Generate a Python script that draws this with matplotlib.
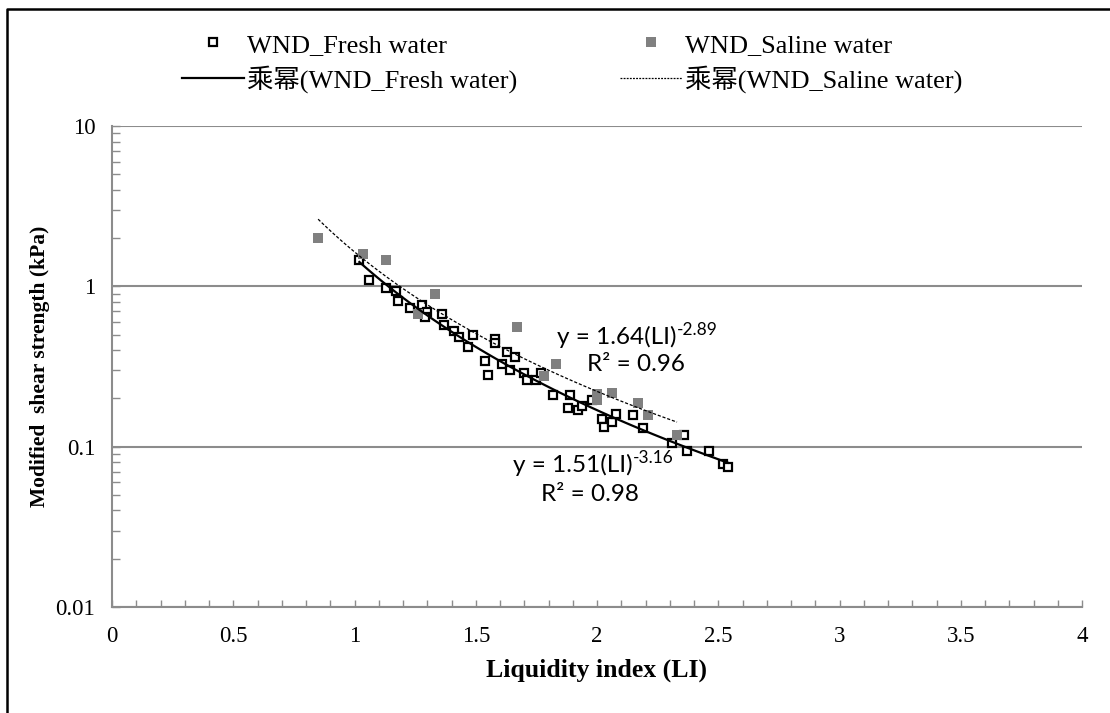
import numpy as np
import matplotlib
matplotlib.use('Agg')
import matplotlib.pyplot as plt
from matplotlib.ticker import MultipleLocator, LogLocator, FuncFormatter, NullFormatter
from matplotlib.lines import Line2D

# -- data
fresh_li = [1.02, 1.06, 1.13, 1.17, 1.18, 1.23, 1.28, 1.30, 1.29, 1.36, 1.37, 1.41,
            1.43, 1.49, 1.47, 1.58, 1.58, 1.63, 1.66, 1.54, 1.55, 1.61, 1.64, 1.70,
            1.71, 1.75, 1.77, 1.82, 1.89, 1.88, 1.92, 1.94, 1.98, 2.02, 2.03, 2.06,
            2.08, 2.15, 2.19, 2.31, 2.36, 2.37, 2.46, 2.52, 2.54]
fresh_su = [1.47, 1.09, 0.97, 0.94, 0.81, 0.73, 0.76, 0.69, 0.64, 0.67, 0.57, 0.53,
            0.48, 0.50, 0.42, 0.47, 0.44, 0.39, 0.36, 0.34, 0.28, 0.33, 0.30, 0.29,
            0.26, 0.26, 0.29, 0.21, 0.21, 0.174, 0.169, 0.179, 0.195, 0.148, 0.132, 0.142,
            0.159, 0.157, 0.130, 0.105, 0.118, 0.094, 0.094, 0.078, 0.075]
saline_li = [0.85, 1.035, 1.13, 1.33, 1.26, 1.67, 1.83, 1.78, 2.00, 2.00, 2.06,
             2.17, 2.21, 2.33]
saline_su = [1.99, 1.58, 1.45, 0.90, 0.67, 0.555, 0.33, 0.275, 0.212, 0.195, 0.216,
             0.187, 0.157, 0.118]

# power trendlines (coefficients as printed on the chart)
fresh_a, fresh_b = 1.51, -3.16
saline_a, saline_b = 1.64, -2.89

serif = ['Liberation Serif', 'Noto Sans CJK SC']
plt.rcParams['font.family'] = serif
gray = '#8c8c8c'

fig = plt.figure(figsize=(11.1, 7.13), dpi=100)
ax = fig.add_axes([112 / 1110, 1 - 607 / 713, (1082 - 112) / 1110, (607 - 126) / 713])

ax.plot(fresh_li, fresh_su, 's', ms=5.8, mfc='white', mec='black', mew=1.6, zorder=3)
ax.plot(saline_li, saline_su, 's', ms=7.2, mfc='#808080', mec='#808080', mew=0, zorder=4)

xf = np.linspace(min(fresh_li), max(fresh_li), 100)
ax.plot(xf, fresh_a * xf ** fresh_b, '-', color='black', lw=1.6, zorder=5)
xs = np.linspace(min(saline_li), max(saline_li), 100)
ax.plot(xs, saline_a * xs ** saline_b, color='black', lw=0.9, ls=(0, (2.5, 1.5)), zorder=5)

ax.set_yscale('log')
ax.set_xlim(0, 4)
ax.set_ylim(0.01, 10)
ax.xaxis.set_major_locator(MultipleLocator(0.5))
ax.xaxis.set_minor_locator(MultipleLocator(0.1))
ax.yaxis.set_major_locator(LogLocator(base=10))
ax.yaxis.set_minor_locator(LogLocator(base=10, subs=np.arange(2, 10)))
ax.yaxis.set_minor_formatter(NullFormatter())
ax.xaxis.set_major_formatter(FuncFormatter(lambda v, p: '%g' % v))
ax.yaxis.set_major_formatter(FuncFormatter(lambda v, p: '%g' % v))

for s in ['top', 'right']:
    ax.spines[s].set_visible(False)
for s in ['left', 'bottom']:
    ax.spines[s].set_color(gray)
    ax.spines[s].set_linewidth(1.5)

ax.grid(True, which='major', axis='y', color=gray, lw=1.5)
ax.tick_params(axis='both', which='both', direction='in', color=gray, width=1, labelsize=16.5)
ax.tick_params(axis='x', which='both', length=5, pad=14)
ax.tick_params(axis='y', which='both', length=6, pad=12)

ax.set_xlabel('Liquidity index (LI)', fontsize=18.5, fontweight='bold', labelpad=8)
ax.set_ylabel('Modified  shear strength (kPa)', fontsize=15.5, fontweight='bold', labelpad=4)

# equations, with the exponent as a small raised text
eq_font = dict(fontfamily='Lato', fontsize=17.5, va='center', zorder=6)
sup_font = dict(fontfamily='Lato', fontsize=12.5, ha='left', va='bottom', zorder=6)
t1 = ax.text(1.835, 0.485, 'y = 1.64(LI)', ha='left', **eq_font)
ax.annotate('-2.89', xy=(1.0, 0.45), xycoords=t1, **sup_font)
ax.text(2.16, 0.325, 'R² = 0.96', ha='center', **eq_font)
t2 = ax.text(1.655, 0.077, 'y = 1.51(LI)', ha='left', **eq_font)
ax.annotate('-3.16', xy=(1.0, 0.45), xycoords=t2, **sup_font)
ax.text(1.971, 0.0505, 'R² = 0.98', ha='center', **eq_font)

# legend above the axes
handles = [
    Line2D([], [], ls='none', marker='s', ms=5.8, mfc='white', mec='black', mew=1.6),
    Line2D([], [], color='black', lw=1.6),
    Line2D([], [], ls='none', marker='s', ms=7.2, mfc='#808080', mec='#808080', mew=0),
    Line2D([], [], color='black', lw=0.9, ls=(0, (1.5, 1))),
]
labels = ['WND_Fresh water', '乘幂(WND_Fresh water)',
          'WND_Saline water', '乘幂(WND_Saline water)']
fig.legend(handles, labels, ncol=2, loc='center', bbox_to_anchor=(572 / 1110, 1 - 63 / 713),
           frameon=False, prop={'family': serif, 'size': 19}, handlelength=2.35,
           handletextpad=0.1, columnspacing=3.9, labelspacing=0.32)

# outer chart border (only top and left visible in the crop)
fig.add_artist(Line2D([7 / 1110, 7 / 1110, 1], [0, 1 - 9 / 713, 1 - 9 / 713],
                      transform=fig.transFigure, color='black', lw=1.8))

fig.savefig('out.png', dpi=100)
